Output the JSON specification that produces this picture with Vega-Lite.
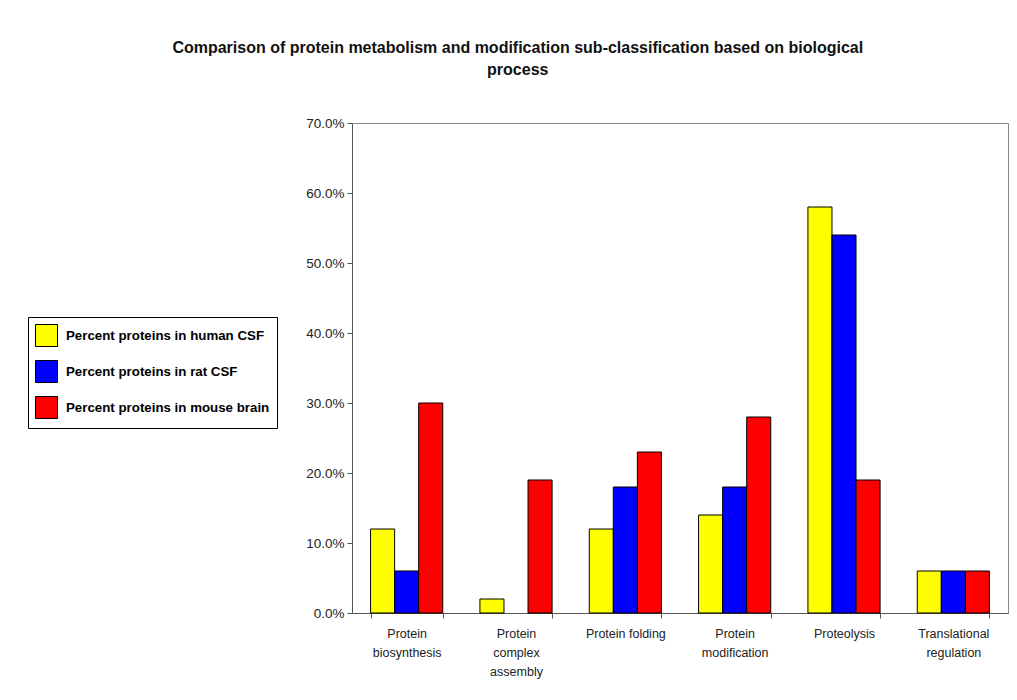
{
  "$schema": "https://vega.github.io/schema/vega-lite/v6.json",
  "width": 656,
  "height": 490,
  "autosize": {"type": "none"},
  "padding": {"left": 352, "top": 123, "right": 9, "bottom": 87},
  "background": "white",
  "title": {
    "text": ["Comparison of protein metabolism and modification sub-classification based on biological", "process"],
    "anchor": "middle",
    "frame": "bounds",
    "font": "Liberation Sans",
    "fontSize": 16,
    "fontWeight": "bold",
    "color": "#111111",
    "lineHeight": 22,
    "offset": 38
  },
  "data": {
    "values": [
      {"category": "Protein biosynthesis", "series": "Percent proteins in human CSF", "value": 0.12},
      {"category": "Protein biosynthesis", "series": "Percent proteins in rat CSF", "value": 0.06},
      {"category": "Protein biosynthesis", "series": "Percent proteins in mouse brain", "value": 0.30},
      {"category": "Protein complex assembly", "series": "Percent proteins in human CSF", "value": 0.02},
      {"category": "Protein complex assembly", "series": "Percent proteins in rat CSF", "value": null},
      {"category": "Protein complex assembly", "series": "Percent proteins in mouse brain", "value": 0.19},
      {"category": "Protein folding", "series": "Percent proteins in human CSF", "value": 0.12},
      {"category": "Protein folding", "series": "Percent proteins in rat CSF", "value": 0.18},
      {"category": "Protein folding", "series": "Percent proteins in mouse brain", "value": 0.23},
      {"category": "Protein modification", "series": "Percent proteins in human CSF", "value": 0.14},
      {"category": "Protein modification", "series": "Percent proteins in rat CSF", "value": 0.18},
      {"category": "Protein modification", "series": "Percent proteins in mouse brain", "value": 0.28},
      {"category": "Proteolysis", "series": "Percent proteins in human CSF", "value": 0.58},
      {"category": "Proteolysis", "series": "Percent proteins in rat CSF", "value": 0.54},
      {"category": "Proteolysis", "series": "Percent proteins in mouse brain", "value": 0.19},
      {"category": "Translational regulation", "series": "Percent proteins in human CSF", "value": 0.06},
      {"category": "Translational regulation", "series": "Percent proteins in rat CSF", "value": 0.06},
      {"category": "Translational regulation", "series": "Percent proteins in mouse brain", "value": 0.06}
    ]
  },
  "mark": {"type": "bar", "stroke": "#000000", "strokeWidth": 1},
  "encoding": {
    "x": {
      "field": "category",
      "type": "nominal",
      "sort": null,
      "scale": {"paddingInner": 0.34, "paddingOuter": 0.17},
      "axis": {
        "title": null,
        "labelAngle": 0,
        "tickBand": "extent",
        "labelExpr": "!isValid(datum.value) ? '' : datum.value == 'Protein folding' ? datum.value : datum.value == 'Protein complex assembly' ? ['Protein', 'complex', 'assembly'] : split(datum.value, ' ')",
        "labelFontSize": 12.5,
        "labelLineHeight": 19,
        "labelPadding": 9,
        "labelBaseline": "top"
      }
    },
    "xOffset": {
      "field": "series",
      "type": "nominal",
      "sort": ["Percent proteins in human CSF", "Percent proteins in rat CSF", "Percent proteins in mouse brain"],
      "scale": {"paddingInner": 0, "paddingOuter": 0}
    },
    "y": {
      "field": "value",
      "type": "quantitative",
      "scale": {"domain": [0, 0.7], "nice": false},
      "axis": {
        "title": null,
        "format": ".1%",
        "values": [0, 0.1, 0.2, 0.3, 0.4, 0.5, 0.6, 0.7],
        "grid": false,
        "labelFontSize": 13.5,
        "labelPadding": 3
      }
    },
    "color": {
      "field": "series",
      "type": "nominal",
      "sort": ["Percent proteins in human CSF", "Percent proteins in rat CSF", "Percent proteins in mouse brain"],
      "scale": {
        "domain": ["Percent proteins in human CSF", "Percent proteins in rat CSF", "Percent proteins in mouse brain"],
        "range": ["#FFFF00", "#0000FF", "#FF0000"]
      },
      "legend": {
        "title": null,
        "orient": "none",
        "legendX": -324,
        "legendY": 194,
        "symbolType": "square",
        "symbolSize": 484,
        "symbolStrokeColor": "#000000",
        "symbolStrokeWidth": 1,
        "symbolOpacity": 1,
        "labelFont": "Liberation Sans",
        "labelFontSize": 13.3,
        "labelFontWeight": "bold",
        "labelColor": "#000000",
        "labelOffset": 8,
        "labelLimit": 300,
        "rowPadding": 9,
        "padding": 7,
        "strokeColor": "#000000",
        "fillColor": "#FFFFFF"
      }
    }
  },
  "config": {
    "font": "Liberation Sans",
    "view": {"stroke": "#888888", "strokeWidth": 1},
    "axis": {
      "labelFont": "Liberation Sans",
      "labelColor": "#222222",
      "domainColor": "#555555",
      "tickColor": "#555555",
      "tickSize": 5
    }
  }
}
